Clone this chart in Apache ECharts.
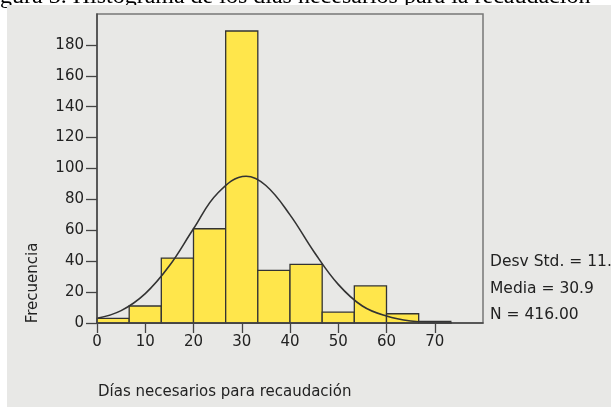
<!DOCTYPE html>
<html>
<head>
<meta charset="utf-8">
<script src="https://cdn.jsdelivr.net/npm/echarts@6/dist/echarts.min.js"></script>
<style>
html,body{margin:0;padding:0;background:#fff;}
#c{width:611px;height:407px;}
</style>
</head>
<body>
<div id="c"></div>
<script>
// Histogram bins (días) and frequencies
var binStart = [0, 6.67, 13.33, 20, 26.67, 33.33, 40, 46.67, 53.33, 60, 66.67];
var binEnd   = [6.67, 13.33, 20, 26.67, 33.33, 40, 46.67, 53.33, 60, 66.67, 73.33];
var counts   = [3, 11, 42, 61, 189, 34, 38, 7, 24, 6, 1];
// Normal curve
var curveX = [0, 5, 10, 15, 20, 25, 30.9, 35, 40, 45, 50, 55, 60, 65, 70, 73.5];
var curveY = [3, 8, 19, 37, 61, 84, 95, 89, 70, 46, 25, 11, 4.5, 1.3, 0.3, 0.1];
var xTicks = [0, 10, 20, 30, 40, 50, 60, 70];
var yTicks = [0, 20, 40, 60, 80, 100, 120, 140, 160, 180];
var statsLines = ['Desv Std. = 11.65', 'Media = 30.9', 'N = 416.00'];
var titleText = 'gura 3. Histograma de los días necesarios para la recaudación';
var xName = 'Días necesarios para recaudación';
var yName = 'Frecuencia';

var FONT = 'DejaVu Sans';
var chart = echarts.init(document.getElementById('c'), null, {renderer: 'canvas'});

var barData = binStart.map(function (s, i) { return [s, binEnd[i], counts[i]]; });
var curveData = curveX.map(function (x, i) { return [x, curveY[i]]; });

var option = {
  backgroundColor: '#ffffff',
  animation: false,
  graphic: [
    {type: 'text', left: 0, top: -15, z: -20,
     style: {text: titleText, font: '24px "Liberation Serif"', fill: '#000'}},
    {type: 'rect', shape: {x: 7, y: 5, width: 604, height: 402}, z: -10,
     style: {fill: '#e8e8e6'}},
    {type: 'text', x: 33, y: 283, rotation: Math.PI / 2, z: 10,
     style: {text: yName, font: '15px "' + FONT + '"', fill: '#222', align: 'center', verticalAlign: 'middle'}},
    {type: 'text', x: 98, y: 392, z: 10,
     style: {text: xName, font: '15px "' + FONT + '"', fill: '#222', align: 'left', verticalAlign: 'middle'}},
    {type: 'text', x: 490, y: 262, z: 10,
     style: {text: statsLines[0], font: '15.5px "' + FONT + '"', fill: '#222', verticalAlign: 'middle'}},
    {type: 'text', x: 490, y: 289, z: 10,
     style: {text: statsLines[1], font: '15.5px "' + FONT + '"', fill: '#222', verticalAlign: 'middle'}},
    {type: 'text', x: 490, y: 315, z: 10,
     style: {text: statsLines[2], font: '15.5px "' + FONT + '"', fill: '#222', verticalAlign: 'middle'}}
  ],
  grid: {
    left: 97, top: 14, right: 128, bottom: 84,
    show: true, borderColor: '#777', borderWidth: 1.5, backgroundColor: 'transparent'
  },
  xAxis: {
    type: 'value', min: 0, max: 80, interval: 10, z: 6,
    axisLine: {show: true, onZero: false, lineStyle: {color: '#444', width: 1.5}},
    axisTick: {show: true, length: 10, lineStyle: {color: '#444', width: 1.3}},
    axisLabel: {
      margin: 12, color: '#222', fontFamily: FONT, fontSize: 15, showMaxLabel: false,
      formatter: function (v) { return xTicks.indexOf(v) >= 0 ? String(v) : ''; }
    },
    splitLine: {show: false}
  },
  yAxis: {
    type: 'value', min: 0, max: 200, interval: 20, z: 6,
    axisLine: {show: true, lineStyle: {color: '#444', width: 1.5}},
    axisTick: {show: true, length: 11, lineStyle: {color: '#444', width: 1.3}},
    axisLabel: {
      margin: 13, color: '#222', fontFamily: FONT, fontSize: 15, showMaxLabel: false,
      formatter: function (v) { return yTicks.indexOf(v) >= 0 ? String(v) : ''; }
    },
    splitLine: {show: false}
  },
  series: [
    {
      type: 'custom', z: 4,
      data: barData,
      encode: {x: [0, 1], y: 2},
      renderItem: function (params, api) {
        var p0 = api.coord([api.value(0), api.value(2)]);
        var p1 = api.coord([api.value(1), 0]);
        return {
          type: 'rect',
          shape: {x: p0[0], y: p0[1], width: p1[0] - p0[0], height: p1[1] - p0[1]},
          style: {fill: '#ffe64b', stroke: '#333', lineWidth: 1.3}
        };
      }
    },
    {
      type: 'line', z: 5, data: curveData, smooth: 0.4, symbol: 'none',
      lineStyle: {color: '#333', width: 1.6}
    }
  ]
};
chart.setOption(option);
</script>
</body>
</html>
